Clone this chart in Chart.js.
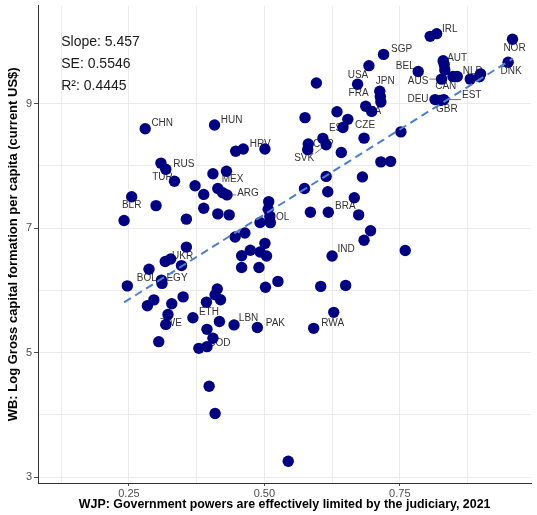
<!DOCTYPE html>
<html>
<head>
<meta charset="utf-8">
<script src="https://cdn.jsdelivr.net/npm/chart.js@4.4.1/dist/chart.umd.min.js"></script>
<style>
  html, body { margin: 0; padding: 0; background: #ffffff; }
  canvas { display: block; }
</style>
</head>
<body>
<canvas id="chart" width="537" height="515"></canvas>
<script>
// Country codes ('' = country drawn without a text label)
const countryCodes = [
  'CHN','HUN','','HRV','','RUS','','TUR','','MEX',
  '','','','ARG','','BLR','','','','',
  '','','','','POL','','','','','',
  '','','','','','','UKR','','','',
  'BOL','EGY','','','','','','','','',
  '','','','','','ZWE','ETH','','','LBN',
  'PAK','','','','COD','','','','RWA','',
  '','','IND','','','','','BRA','','',
  '','','','','','','','','SVK','CYP',
  '','','','','ESP','CZE','','','ITA','',
  'FRA','JPN','','','USA','SGP','','IRL','NOR','DNK',
  'AUT','','CAN','BEL','AUS','','','NLD','','',
  'DEU','GBR','EST'
];

// WJP: government powers effectively limited by the judiciary, 2021
const judicialLimits = [
  0.280, 0.408, 0.447, 0.461, 0.501, 0.309, 0.318, 0.334, 0.405, 0.430,
  0.372, 0.414, 0.423, 0.431, 0.388, 0.255, 0.300, 0.388, 0.414, 0.435,
  0.241, 0.356, 0.508, 0.507, 0.510, 0.492, 0.511, 0.446, 0.464, 0.501,
  0.356, 0.474, 0.492, 0.504, 0.458, 0.317, 0.327, 0.347, 0.287, 0.247,
  0.310, 0.311, 0.458, 0.490, 0.525, 0.502, 0.413, 0.409, 0.419, 0.350,
  0.393, 0.296, 0.284, 0.329, 0.322, 0.318, 0.368, 0.417, 0.394, 0.444,
  0.487, 0.305, 0.405, 0.379, 0.394, 0.398, 0.409, 0.544, 0.591, 0.628,
  0.604, 0.650, 0.625, 0.760, 0.696, 0.684, 0.585, 0.618, 0.674, 0.574,
  0.617, 0.666, 0.614, 0.681, 0.715, 0.733, 0.642, 0.608, 0.614, 0.581,
  0.580, 0.575, 0.634, 0.654, 0.645, 0.684, 0.752, 0.687, 0.698, 0.596,
  0.672, 0.713, 0.714, 0.715, 0.693, 0.720, 0.806, 0.818, 0.958, 0.950,
  0.830, 0.832, 0.833, 0.784, 0.827, 0.848, 0.856, 0.880, 0.899, 0.897,
  0.815, 0.824, 0.831
];

// WB: log gross capital formation per capita (current US$)
const logCapitalFormation = [
  8.595, 8.656, 8.233, 8.270, 8.270, 8.043, 7.944, 7.751, 7.873, 7.913,
  7.678, 7.635, 7.567, 7.532, 7.540, 7.503, 7.360, 7.317, 7.227, 7.211,
  7.122, 7.143, 7.424, 7.302, 7.186, 7.090, 7.087, 6.857, 6.921, 6.754,
  6.694, 6.643, 6.614, 6.551, 6.556, 6.463, 6.503, 6.397, 6.338, 6.071,
  6.163, 6.111, 6.365, 6.365, 6.143, 6.048, 6.021, 5.929, 5.849, 5.894,
  5.810, 5.846, 5.751, 5.783, 5.611, 5.452, 5.560, 5.498, 5.373, 5.444,
  5.402, 5.175, 5.230, 5.068, 5.095, 4.460, 4.021, 3.254, 5.389, 5.646,
  6.063, 6.079, 6.551, 6.640, 6.957, 6.805, 7.254, 7.254, 7.211, 7.635,
  7.583, 7.487, 7.829, 7.821, 8.063, 8.071, 8.214, 8.440, 8.338, 8.349,
  8.259, 8.773, 8.868, 8.746, 8.614, 8.444, 8.544, 8.957, 8.873, 9.329,
  9.310, 9.198, 9.111, 9.024, 9.608, 9.789, 10.079, 10.122, 10.032, 9.662,
  9.687, 9.627, 9.540, 9.513, 9.392, 9.433, 9.433, 9.392, 9.476, 9.429,
  9.063, 9.048, 9.063
];

// Linear fit summary
const fitSlope = 5.457;
const fitSE = 0.5546;
const fitR2 = 0.4445;
const fitIntercept = 4.49;

// Axis breaks
const xBreaks = [0.125, 0.25, 0.375, 0.5, 0.625, 0.75, 0.875];
const xLabelled = [0.25, 0.5, 0.75];
const yBreaks = [3, 4, 5, 6, 7, 8, 9];
const yLabelled = [3, 5, 7, 9];

// Text placement next to each point, in pixels [dx, dy] from the point centre
const labelNudge = {
  CHN: [17, -5], HUN: [17, -5], HRV: [17, -5], RUS: [23, 1.5], TUR: [-12, -3.7],
  MEX: [6, 8], ARG: [21, -1.5], BLR: [0, 8.5], POL: [9.5, 0.7], UKR: [12, -2.3],
  BOL: [-14.7, -2], EGY: [15, -5.3], ZWE: [5, -1.5], ETH: [16, -5.7], LBN: [14.5, -6.3],
  PAK: [18, -4.7], COD: [12.5, -3.3], RWA: [19, -5], IND: [14, -6.3], BRA: [17, -6],
  SVK: [-22, 13.6], CYP: [15, 0], ESP: [-4, 0.7], CZE: [1, -13], ITA: [2, 0.3],
  FRA: [1, 9.5], JPN: [5.5, -9.5], USA: [-11, 9.3], SGP: [18, -5], IRL: [13, -4.5],
  NOR: [2, 9], DNK: [3, 9], AUT: [14, -2.7], BEL: [-13, -5], AUS: [-23.5, 1.7],
  CAN: [1, 16.7], NLD: [2.5, -7.6], DEU: [-17, 0], GBR: [7, 9], EST: [28, -4]
};
const withLeader = new Set(['ARG', 'AUS', 'CAN', 'EST', 'SVK']);

const points = judicialLimits.map((x, i) => ({ x: x, y: logCapitalFormation[i] }));
const xLo = Math.min(...judicialLimits);
const xHi = Math.max(...judicialLimits);
const fitLine = [xLo, xHi].map(x => ({ x: x, y: fitIntercept + fitSlope * x }));

const FONT = "'Liberation Sans', Arial, Helvetica, sans-serif";
Chart.defaults.font.family = FONT;

const countryLabels = {
  id: 'countryLabels',
  beforeDatasetsDraw(chart) {
    const ctx = chart.ctx;
    const xs = chart.scales.x, ys = chart.scales.y;
    ctx.save();
    ctx.font = '10px ' + FONT;
    ctx.textAlign = 'center';
    ctx.textBaseline = 'middle';
    countryCodes.forEach((code, i) => {
      if (!code) return;
      const px = xs.getPixelForValue(judicialLimits[i]);
      const py = ys.getPixelForValue(logCapitalFormation[i]);
      const nudge = labelNudge[code] || [14, -5];
      const lx = px + nudge[0], ly = py + nudge[1];
      if (withLeader.has(code)) {
        const w = ctx.measureText(code).width / 2 + 1, h = 5;
        const ex = Math.max(lx - w, Math.min(px, lx + w));
        const ey = Math.max(ly - h, Math.min(py, ly + h));
        ctx.strokeStyle = '#333333';
        ctx.lineWidth = 0.7;
        ctx.beginPath();
        ctx.moveTo(px, py);
        ctx.lineTo(ex, ey);
        ctx.stroke();
      }
      ctx.fillStyle = '#333333';
      ctx.fillText(code, lx, ly);
    });
    ctx.restore();
  }
};

const fitStats = {
  id: 'fitStats',
  afterDraw(chart) {
    const ctx = chart.ctx;
    const x0 = chart.scales.x.getPixelForValue(0.125);
    const y0 = chart.scales.y.getPixelForValue(9.99);
    ctx.save();
    ctx.font = '14px ' + FONT;
    ctx.fillStyle = '#1a1a1a';
    ctx.textAlign = 'left';
    ctx.textBaseline = 'middle';
    const lines = [
      'Slope: ' + fitSlope.toFixed(3),
      'SE: ' + fitSE.toFixed(4),
      'R\u00b2: ' + fitR2.toFixed(4)
    ];
    lines.forEach((t, k) => ctx.fillText(t, x0, y0 + k * 22.2));
    ctx.restore();
  }
};

const gridColour = '#ebebeb';

new Chart(document.getElementById('chart'), {
  type: 'scatter',
  data: {
    datasets: [
      {
        type: 'scatter',
        data: points,
        backgroundColor: '#000080',
        borderColor: '#000080',
        borderWidth: 0,
        pointRadius: 5.7,
        pointHoverRadius: 5.7,
        order: 2
      },
      {
        type: 'line',
        data: fitLine,
        borderColor: '#4d7fca',
        borderWidth: 2,
        borderDash: [8, 5],
        pointRadius: 0,
        fill: false,
        order: 1
      }
    ]
  },
  options: {
    responsive: false,
    animation: false,
    devicePixelRatio: 1,
    layout: { padding: 0 },
    plugins: {
      legend: { display: false },
      tooltip: { enabled: false }
    },
    scales: {
      x: {
        type: 'linear',
        position: 'bottom',
        min: 0.0821,
        max: 0.9927,
        afterBuildTicks: s => { s.ticks = xBreaks.map(v => ({ value: v })); },
        afterFit: s => { s.height = 32; s.paddingLeft = 0; s.paddingRight = 0; },
        ticks: {
          autoSkip: false,
          maxRotation: 0,
          padding: 1,
          color: '#4d4d4d',
          font: { size: 11 },
          callback: v => xLabelled.includes(v) ? v.toFixed(2) : ''
        },
        grid: {
          color: gridColour,
          lineWidth: 1,
          tickLength: 3,
          tickColor: c => (c.tick && xLabelled.includes(c.tick.value)) ? '#4d4d4d' : 'rgba(0,0,0,0)'
        },
        border: { display: true, color: '#333333', width: 1 },
        title: {
          display: true,
          text: 'WJP: Government powers are effectively limited by the judiciary, 2021',
          color: '#000000',
          font: { size: 12.4, weight: 'bold' },
          padding: { top: 0, bottom: 3 }
        }
      },
      y: {
        type: 'linear',
        position: 'left',
        min: 2.905,
        max: 10.571,
        afterBuildTicks: s => { s.ticks = yBreaks.map(v => ({ value: v })); },
        afterFit: s => { s.width = 38; s.paddingTop = 0; s.paddingBottom = 0; },
        ticks: {
          autoSkip: false,
          padding: 2,
          color: '#4d4d4d',
          font: { size: 11 },
          callback: v => yLabelled.includes(v) ? String(v) : ''
        },
        grid: {
          color: gridColour,
          lineWidth: 1,
          tickLength: 4,
          tickColor: c => (c.tick && yLabelled.includes(c.tick.value)) ? '#4d4d4d' : 'rgba(0,0,0,0)'
        },
        border: { display: true, color: '#333333', width: 1 },
        title: {
          display: true,
          text: 'WB: Log Gross capital formation per capita (current US$)',
          color: '#000000',
          font: { size: 13, weight: 'bold' },
          padding: { top: 6, bottom: 0 }
        }
      }
    }
  },
  plugins: [countryLabels, fitStats]
});
</script>
</body>
</html>
